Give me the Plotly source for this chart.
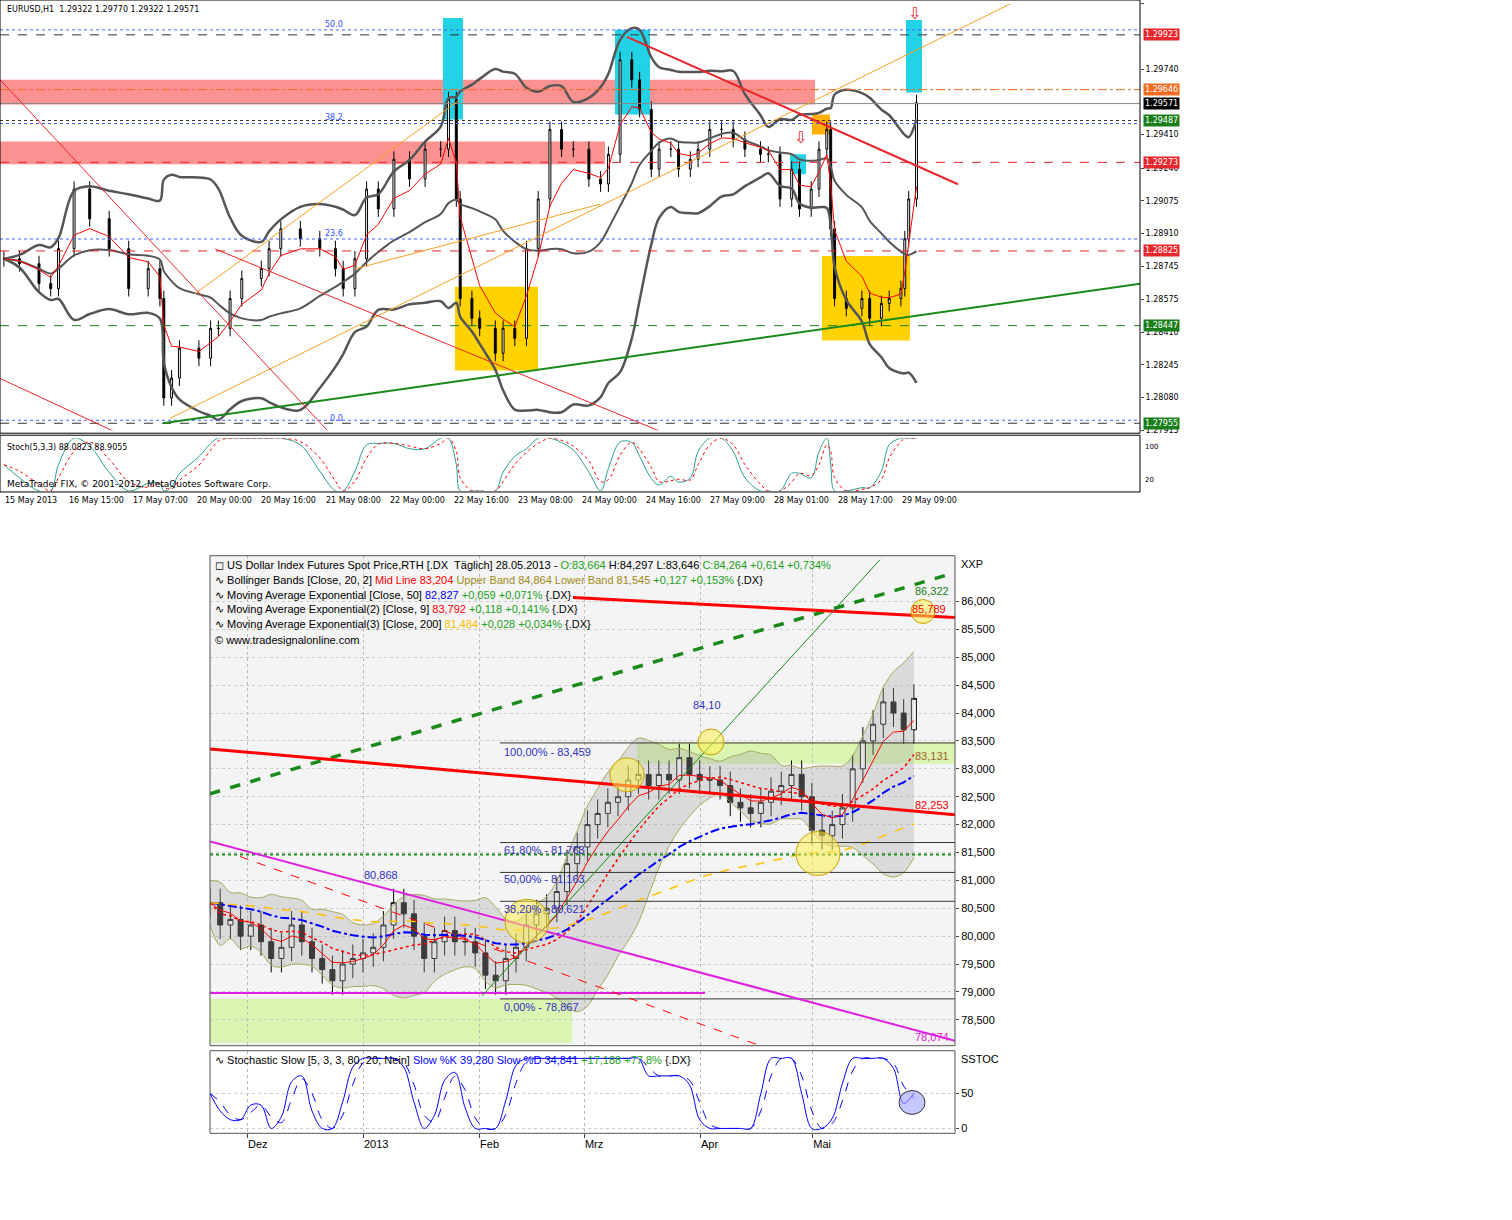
import plotly.graph_objects as go
import numpy as np
import pandas as pd

W, H = 1512, 1220

# ---------------- DATA ----------------
top_hours = [1,5,10,13,15,19,23,28,33,38,41,42,44,46,51,54,56,59,62,67,69,72,77,82,86,88,91,94,97,101,105,109,113,115,117,118,121,123,127,129,132,135,138,141,144,147,151,154,156,159,162,164,167,169,172,174,177,179,182,185,188,191,195,197,200,203,205,208,210,212,213,214,217,221,223,226,228,231,232,233,235]
top_close = [1.28782,1.28757,1.28657,1.28631,1.28833,1.29134,1.28984,1.28833,1.28631,1.28732,1.28581,1.28078,1.28179,1.28330,1.28279,1.28430,1.28430,1.28581,1.28682,1.28732,1.28833,1.28933,1.28883,1.28833,1.28732,1.28631,1.28782,1.29134,1.29034,1.29285,1.29185,1.29336,1.29336,1.29587,1.29084,1.28581,1.28481,1.28430,1.28304,1.28430,1.28380,1.28833,1.29084,1.29436,1.29336,1.29336,1.29185,1.29160,1.29310,1.29788,1.29687,1.29537,1.29235,1.29336,1.29336,1.29235,1.29285,1.29336,1.29436,1.29436,1.29386,1.29336,1.29310,1.29310,1.29084,1.29235,1.29034,1.29134,1.29336,1.29436,1.28933,1.28581,1.28531,1.28581,1.28481,1.28556,1.28581,1.28631,1.28883,1.29084,1.29571]
top_ticks = [1.30070,1.29740,1.29410,1.29240,1.29075,1.28910,1.28745,1.28575,1.28410,1.28245,1.28080,1.27915]
top_xlabels = ["15 May 2013","16 May 15:00","17 May 07:00","20 May 00:00","20 May 16:00","21 May 08:00","22 May 00:00","22 May 16:00","23 May 08:00","24 May 00:00","24 May 16:00","27 May 09:00","28 May 01:00","28 May 17:00","29 May 09:00"]
top_levels = [("1.29923","#e8262b","white"),("1.29646","#f26b22","white"),("1.29571","black","white"),("1.29487","#1a7f1a","white"),("1.29273","#e8262b","white"),("1.28825","#e8262b","white"),("1.28447","#1a7f1a","white"),("1.27955","#1a7f1a","white")]

bot_close = [80.6,80.2,80.3,80.0,80.2,79.9,79.6,79.8,80.2,79.9,79.6,79.4,79.2,79.5,79.6,79.7,79.8,80.2,80.6,80.4,80.0,79.6,79.9,80.1,79.9,79.9,79.7,79.3,79.2,79.6,79.8,80.2,80.4,80.5,80.8,81.3,81.6,82.0,82.2,82.4,82.5,82.8,82.9,82.7,82.9,82.8,83.2,82.9,82.8,82.8,82.7,82.4,82.3,82.2,82.4,82.6,82.7,82.9,82.5,81.9,81.8,82.0,82.3,83.0,83.5,83.8,84.2,84.0,83.7,84.264]
bot_yticks = [78.5,79,79.5,80,80.5,81,81.5,82,82.5,83,83.5,84,84.5,85,85.5,86]
bot_months = ["2012-12-01","2013-01-01","2013-02-01","2013-03-01","2013-04-01","2013-05-01"]
bot_month_labels = ["Dez","2013","Feb","Mrz","Apr","Mai"]

# ---------------- helpers (pixel mapping for decorations) ----------------
def px(x): return x / W
def py(y): return 1 - y / H
def hx(p): return p / 3.9
def tp(y): return 1.30070 - (y - 4) * (0.02155 / 428)
D0 = pd.Timestamp("2012-11-21")
def bx(p): return D0 + pd.Timedelta(days=(p - 210) / 3.744)
def bp(y): return 86 - (y - 604) / 56.0

def ema(a, n):
    out = []; k = 2 / (n + 1); v = a[0]
    for x in a:
        v = x * k + v * (1 - k); out.append(v)
    return np.array(out)

def stoch(c, n=5, s=3):
    c = np.array(c); k = []
    for i in range(len(c)):
        w = c[max(0, i - n + 1):i + 1]
        rng = w.max() - w.min()
        k.append(50 if rng == 0 else 100 * (c[i] - w.min()) / rng)
    k = pd.Series(k).rolling(s, min_periods=1).mean()
    d = k.rolling(s, min_periods=1).mean()
    return k.values, d.values

fig = go.Figure()

# ---------------- TOP CHART ----------------
tc = np.array(top_close)
to = np.r_[tc[0], tc[:-1]]
th = np.maximum(to, tc) + 0.0004
tl = np.minimum(to, tc) - 0.0004
s = pd.Series(tc)
mid = s.rolling(12, min_periods=1).mean(); sd = s.rolling(12, min_periods=1).std().fillna(0)
fig.add_trace(go.Scatter(x=top_hours, y=mid + 1.8 * sd, mode="lines", line=dict(color="#555", width=2.5, shape="spline"), xaxis="x", yaxis="y", showlegend=False))
fig.add_trace(go.Scatter(x=top_hours, y=mid - 1.8 * sd, mode="lines", line=dict(color="#555", width=2.5, shape="spline"), xaxis="x", yaxis="y", showlegend=False))
fig.add_trace(go.Scatter(x=top_hours, y=mid, mode="lines", line=dict(color="#555", width=2, shape="spline"), xaxis="x", yaxis="y", showlegend=False))
fig.add_trace(go.Candlestick(x=top_hours, open=to, high=th, low=tl, close=tc, xaxis="x", yaxis="y",
    increasing=dict(fillcolor="white", line=dict(color="black", width=1)),
    decreasing=dict(fillcolor="black", line=dict(color="black", width=1)), showlegend=False, whiskerwidth=0))
fig.add_trace(go.Scatter(x=top_hours, y=ema(tc, 4), mode="lines", line=dict(color="red", width=1), xaxis="x", yaxis="y", showlegend=False))
k, d = stoch(top_close, 4, 2)
fig.add_trace(go.Scatter(x=top_hours, y=k, mode="lines", line=dict(color="#2a9d8f", width=1, shape="spline"), xaxis="x", yaxis="y2", showlegend=False))
fig.add_trace(go.Scatter(x=top_hours, y=d, mode="lines", line=dict(color="red", width=1, dash="dot", shape="spline"), xaxis="x", yaxis="y2", showlegend=False))

# ---------------- BOTTOM CHART ----------------
bc = np.array(bot_close)
dates = pd.date_range("2012-11-21", "2013-05-28", periods=len(bc))
bo = np.r_[bc[0], bc[:-1]]
bh = np.maximum(bo, bc) + 0.25
bl = np.minimum(bo, bc) - 0.25
bs = pd.Series(bc)
bm = bs.rolling(10, min_periods=1).mean(); bsd = bs.rolling(10, min_periods=1).std().fillna(0.2)
fig.add_trace(go.Scatter(x=dates, y=bm + 2 * bsd, mode="lines", line=dict(color="#a8a860", width=1, shape="spline"), xaxis="x3", yaxis="y3", showlegend=False))
fig.add_trace(go.Scatter(x=dates, y=bm - 2 * bsd, mode="lines", line=dict(color="#a8a860", width=1, shape="spline"), fill="tonexty", fillcolor="rgba(170,170,170,0.35)", xaxis="x3", yaxis="y3", showlegend=False))
fig.add_trace(go.Scatter(x=dates, y=bm, mode="lines", line=dict(color="red", width=1.5, dash="dot"), xaxis="x3", yaxis="y3", showlegend=False))
fig.add_trace(go.Scatter(x=dates, y=ema(bc, 25), mode="lines", line=dict(color="blue", width=2, dash="dashdot"), xaxis="x3", yaxis="y3", showlegend=False))
fig.add_trace(go.Scatter(x=dates, y=ema(bc, 60), mode="lines", line=dict(color="#ffc000", width=1.5, dash="dash"), xaxis="x3", yaxis="y3", showlegend=False))
fig.add_trace(go.Candlestick(x=dates, open=bo, high=bh, low=bl, close=bc, xaxis="x3", yaxis="y3",
    increasing=dict(fillcolor="white", line=dict(color="black", width=1)),
    decreasing=dict(fillcolor="black", line=dict(color="black", width=1)), showlegend=False, whiskerwidth=0))
fig.add_trace(go.Scatter(x=dates, y=ema(bc, 5), mode="lines", line=dict(color="red", width=1), xaxis="x3", yaxis="y3", showlegend=False))
k2, d2 = stoch(bot_close, 4, 2)
fig.add_trace(go.Scatter(x=dates, y=k2, mode="lines", line=dict(color="blue", width=1, shape="spline"), xaxis="x3", yaxis="y4", showlegend=False))
fig.add_trace(go.Scatter(x=dates, y=d2, mode="lines", line=dict(color="blue", width=1, dash="dash", shape="spline"), xaxis="x3", yaxis="y4", showlegend=False))

shapes = []
def tline(x0, y0, x1, y1, color, width=1, dash="solid"):
    shapes.append(dict(type="line", xref="x", yref="y", x0=hx(x0), y0=tp(y0), x1=hx(x1), y1=tp(y1), line=dict(color=color, width=width, dash=dash)))
def trect(x0, y0, x1, y1, color):
    shapes.append(dict(type="rect", xref="x", yref="y", x0=hx(x0), y0=tp(y0), x1=hx(x1), y1=tp(y1), fillcolor=color, line=dict(width=0), layer="below"))
def bline(x0, y0, x1, y1, color, width=1, dash="solid"):
    shapes.append(dict(type="line", xref="x3", yref="y3", x0=bx(x0), y0=bp(y0), x1=bx(x1), y1=bp(y1), line=dict(color=color, width=width, dash=dash)))
def brect(x0, y0, x1, y1, color, layer="below"):
    shapes.append(dict(type="rect", xref="x3", yref="y3", x0=bx(x0), y0=bp(y0), x1=bx(x1), y1=bp(y1), fillcolor=color, line=dict(width=0), layer=layer))
def bcirc(cx, cy, r, color="rgba(255,240,80,0.55)"):
    shapes.append(dict(type="circle", xref="x3", yref="y3", x0=bx(cx - r), y0=bp(cy - r), x1=bx(cx + r), y1=bp(cy + r), fillcolor=color, line=dict(color="#c8a000", width=1)))

trect(0, 80, 815, 105, "rgba(250,110,110,0.75)")
trect(0, 142, 605, 165, "rgba(250,110,110,0.75)")
trect(443, 18, 463, 120, "#22d3e6")
trect(615, 30, 650, 115, "#22d3e6")
trect(790, 155, 806, 175, "#22d3e6")
trect(906, 20, 922, 93, "#22d3e6")
trect(455, 288, 538, 372, "#ffd200")
trect(822, 257, 910, 342, "#ffd200")
trect(812, 115, 830, 135, "#ffb000")
for y, c, dsh in [(35, "#333", "dash"), (30, "#4060ff", "dot"), (90, "#f26b22", "dashdot"),
                  (104, "#888", "solid"), (121, "#333", "dot"), (124, "#4060ff", "dot"),
                  (163, "#e8262b", "dash"), (240, "#4060ff", "dot"), (252, "#e8262b", "dash"), (327, "#1a7f1a", "dash"),
                  (422, "#4060ff", "dot"), (425, "#333", "dash")]:
    tline(0, y, 1140, y, c, 1, dsh)
tline(163, 425, 1140, 285, "#1a8a1a", 2)
tline(170, 420, 1010, 4, "#f5a020", 1)
tline(195, 295, 460, 100, "#f5a020", 1)
tline(355, 270, 600, 205, "#f5a020", 1)
tline(627, 37, 958, 185, "#e8262b", 2)
tline(0, 80, 330, 435, "#e8262b", 1)
tline(0, 380, 118, 435, "#e8262b", 1)
tline(215, 250, 665, 435, "#e8262b", 1)

brect(210, 558, 955, 1050, "#f4f4f4")
brect(210, 1003, 572, 1047, "rgba(215,245,170,0.9)")
brect(637, 745, 955, 767, "rgba(215,245,170,0.9)")
for y in [746, 846, 876, 905, 1003]:
    bline(500, y, 955, y, "#333", 1)
bline(210, 858, 955, 858, "#1a8a1a", 2, "dot")
bline(210, 997, 705, 997, "#e020e0", 2)
bline(210, 797, 955, 575, "#1a8a1a", 3.5, "dash")
bline(210, 752, 955, 818, "red", 3)
bline(573, 600, 955, 620, "red", 3)
bline(210, 845, 955, 1045, "#e020e0", 2)
bline(482, 1000, 880, 562, "#1a8a1a", 1)
bline(240, 860, 760, 1050, "red", 1, "dash")
bcirc(923, 614, 12); bcirc(711, 745, 13); bcirc(627, 778, 17); bcirc(818, 857, 22); bcirc(527, 925, 22)

shapes.append(dict(type="rect", xref="paper", yref="paper", x0=px(0), y0=py(435), x1=px(1140), y1=py(0), line=dict(color="black", width=1)))
shapes.append(dict(type="rect", xref="paper", yref="paper", x0=px(0), y0=py(494), x1=px(1140), y1=py(437), line=dict(color="black", width=1)))
shapes.append(dict(type="rect", xref="paper", yref="paper", x0=px(210), y0=py(1050), x1=px(955), y1=py(558), line=dict(color="#555", width=1)))
shapes.append(dict(type="rect", xref="paper", yref="paper", x0=px(210), y0=py(1138), x1=px(955), y1=py(1055), line=dict(color="#555", width=1)))
shapes.append(dict(type="circle", xref="paper", yref="paper", x0=px(899), y0=py(1119), x1=px(925), y1=py(1095), fillcolor="rgba(160,160,255,0.6)", line=dict(color="#333", width=1)))

ann = []
F1 = "DejaVu Sans"
def a(x, y, t, size=9, color="black", xa="left", bg=None, font=F1):
    d = dict(x=px(x), y=py(y), xref="paper", yref="paper", text=t, showarrow=False, xanchor=xa, yanchor="middle",
             font=dict(size=size, color=color, family=font))
    if bg: d.update(bgcolor=bg, borderpad=1)
    ann.append(d)

a(5, 10, "EURUSD,H1  1.29322 1.29770 1.29322 1.29571", 8)
a(5, 449, "Stoch(5,3,3) 88.0823 88.9055", 8)
a(5, 486, "MetaTrader FIX, © 2001-2012, MetaQuotes Software Corp.", 9)
a(323, 25, "50.0", 8, "#3050ff"); a(323, 118, "38.2", 8, "#3050ff"); a(323, 234, "23.6", 8, "#3050ff"); a(328, 420, "0.0", 8, "#3050ff")
for i, lab in enumerate(top_xlabels):
    a(3 + i * 64.1, 503, lab, 8)
lvl_y = {"1.29923": 35, "1.29646": 90, "1.29571": 104, "1.29487": 121, "1.29273": 163, "1.28825": 252, "1.28447": 327, "1.27955": 425}
for t, c, fc in top_levels:
    a(1143, lvl_y[t], t, 8, fc, bg=c)
a(1143, 449, "100", 7); a(1143, 482, "20", 7)
a(800, 138, "⇩", 16, "#e8262b", xa="center"); a(914, 14, "⇩", 16, "#e8262b", xa="center")

F2 = "Liberation Sans"
a(213, 567, "◻ US Dollar Index Futures Spot Price,RTH [.DX  Täglich] 28.05.2013 - <span style='color:#20a020'>O:83,664</span> H:84,297 L:83,646 <span style='color:#20a020'>C:84,264 +0,614 +0,734%</span>", 11, font=F2)
a(213, 582, "∿ Bollinger Bands [Close, 20, 2] <span style='color:red'>Mid Line 83,204</span> <span style='color:#a08a20'>Upper Band 84,864 Lower Band 81,545</span> <span style='color:#20a020'>+0,127 +0,153%</span> {.DX}", 11, font=F2)
a(213, 597, "∿ Moving Average Exponential [Close, 50] <span style='color:blue'>82,827</span> <span style='color:#20a020'>+0,059 +0,071%</span> {.DX}", 11, font=F2)
a(213, 612, "∿ Moving Average Exponential(2) [Close, 9] <span style='color:red'>83,792</span> <span style='color:#20a020'>+0,118 +0,141%</span> {.DX}", 11, font=F2)
a(213, 627, "∿ Moving Average Exponential(3) [Close, 200] <span style='color:#ffc000'>81,484</span> <span style='color:#20a020'>+0,028 +0,034%</span> {.DX}", 11, font=F2)
a(213, 643, "© www.tradesignalonline.com", 11, font=F2)
a(213, 1064, "∿ Stochastic Slow [5, 3, 3, 80, 20, Nein] <span style='color:blue'>Slow %K 39,280 Slow %D 34,841</span> <span style='color:#20a020'>+17,188 +77,8%</span> {.DX}", 11, font=F2)
a(959, 566, "XXP", 11, font=F2); a(959, 1063, "SSTOC", 11, font=F2)
a(691, 708, "84,10", 11, "#3030c0", font=F2)
a(502, 755, "100,00% - 83,459", 11, "#3030c0", font=F2)
a(502, 853, "61,80% - 81,763", 11, "#3030c0", font=F2)
a(502, 883, "50,00% - 81,163", 11, "#3030c0", font=F2)
a(502, 913, "38,20% - 80,621", 11, "#3030c0", font=F2)
a(502, 1011, "0,00% - 78,867", 11, "#3030c0", font=F2)
a(362, 879, "80,868", 11, "#3030c0", font=F2)
a(913, 593, "86,322", 11, "#1a7f1a", font=F2); a(910, 612, "85,789", 11, "red", font=F2)
a(913, 759, "83,131", 11, "#a06030", font=F2); a(913, 808, "82,253", 11, "red", font=F2)
a(913, 1041, "78,074", 11, "#e020e0", font=F2)

fig.update_layout(
    width=W, height=H, margin=dict(l=0, r=0, t=0, b=0), paper_bgcolor="white", plot_bgcolor="white",
    shapes=shapes, annotations=ann, showlegend=False,
    font=dict(family=F2, size=11, color="black"),
    xaxis=dict(domain=[px(0), px(1140)], range=[0, 1140 / 3.9], showticklabels=False, showgrid=False, zeroline=False, anchor="y", rangeslider=dict(visible=False)),
    yaxis=dict(domain=[py(432), py(4)], range=[1.27915, 1.30070], side="right", tickvals=top_ticks, ticktext=[f"{v:.5f}" for v in top_ticks],
               tickfont=dict(size=8, family=F1), showgrid=False, zeroline=False, anchor="x", ticks="outside", ticklen=3),
    yaxis2=dict(domain=[py(493), py(440)], range=[0, 100], showticklabels=False, showgrid=False, zeroline=False, anchor="x"),
    xaxis3=dict(domain=[px(210), px(955)], range=[D0, bx(955)], type="date", tickvals=bot_months, ticktext=bot_month_labels,
                showgrid=True, gridcolor="#bbb", griddash="dot", zeroline=False, anchor="y4", ticks="outside", ticklen=4,
                tickfont=dict(size=11), rangeslider=dict(visible=False), ticklabelposition="outside right"),
    yaxis3=dict(domain=[py(1050), py(558)], range=[bp(1050), bp(558)], side="right", tickvals=bot_yticks,
                ticktext=[f"{v:,.3f}".replace(".", ",") for v in bot_yticks], showgrid=True, gridcolor="#ccc", griddash="dot",
                zeroline=False, anchor="x3", ticks="outside", ticklen=3, tickfont=dict(size=11)),
    yaxis4=dict(domain=[py(1138), py(1055)], range=[-7, 111], side="right", tickvals=[0, 50], showgrid=True, gridcolor="#ccc", griddash="dot",
                zeroline=False, anchor="x3", ticks="outside", ticklen=3, tickfont=dict(size=11)),
)
fig.write_html("out.html", config={"displayModeBar": False}, post_script="document.body.style.margin='0';")
